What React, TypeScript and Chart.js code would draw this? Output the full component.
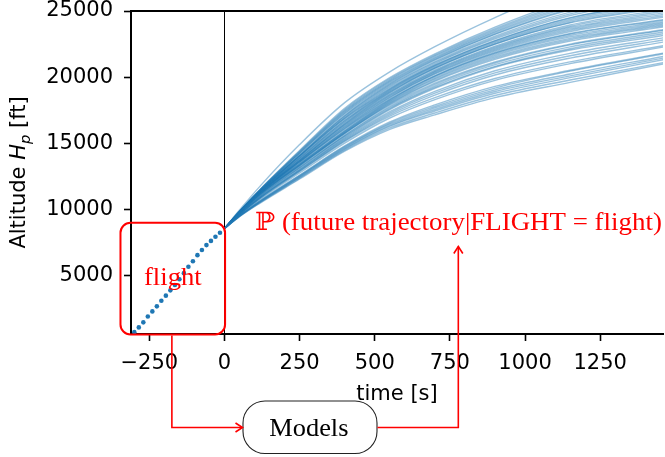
import React, { useEffect, useRef } from "react";
import { Chart, registerables } from "chart.js";

Chart.register(...registerables);

// ---------- data ----------
const TIMES = [0, 50, 120, 250, 400, 550, 700, 900, 1150, 1460];

const TRAJECTORIES: number[][] = [
  [8550, 9450, 10500, 12300, 14400, 16050, 17150, 18450, 19600, 21000],
  [8550, 9470, 10540, 12360, 14480, 16160, 17290, 18610, 19780, 21100],
  [8550, 9480, 10570, 12410, 14550, 16270, 17440, 18780, 19960, 21320],
  [8550, 9490, 10600, 12460, 14610, 16350, 17550, 18910, 20100, 21440],
  [8550, 9500, 10630, 12500, 14680, 16440, 17670, 19040, 20240, 21570],
  [8550, 9520, 10660, 12550, 14740, 16530, 17780, 19170, 20450, 21750],
  [8550, 9530, 10690, 12590, 14800, 16610, 17900, 19300, 20520, 21820],
  [8550, 9570, 10790, 12750, 15010, 16910, 18300, 19760, 21020, 22270],
  [8550, 9620, 10870, 12870, 15150, 17060, 18450, 19900, 21150, 22380],
  [8550, 9610, 10870, 12890, 15200, 17170, 18640, 20160, 21440, 22650],
  [8550, 9620, 10910, 12940, 15270, 17280, 18790, 20320, 21620, 22810],
  [8550, 9640, 10950, 13000, 15350, 17390, 18930, 20480, 21800, 22970],
  [8550, 9630, 10950, 13020, 15420, 17540, 19150, 20750, 22050, 23150],
  [8550, 9670, 11020, 13110, 15500, 17610, 19220, 20810, 22150, 23280],
  [8550, 9680, 11050, 13160, 15560, 17690, 19330, 20940, 22290, 23410],
  [8550, 9690, 11080, 13200, 15620, 17780, 19450, 21070, 22440, 23540],
  [8550, 9740, 11170, 13320, 15740, 17880, 19540, 21150, 22500, 23580],
  [8550, 9710, 11130, 13290, 15750, 17950, 19680, 21340, 22720, 23790],
  [8550, 9720, 11160, 13330, 15790, 18020, 19760, 21440, 22830, 23890],
  [8550, 9730, 11180, 13360, 15840, 18080, 19850, 21530, 22930, 23980],
  [8550, 9740, 11200, 13400, 15880, 18150, 19930, 21630, 23040, 24080],
  [8550, 9750, 11220, 13430, 15930, 18210, 20020, 21730, 23150, 24170],
  [8550, 9750, 11230, 13470, 15990, 18280, 20090, 21810, 23250, 24290],
  [8550, 9800, 11320, 13600, 16100, 18320, 20100, 21850, 23300, 24350],
  [8550, 9760, 11260, 13550, 16120, 18410, 20220, 21960, 23450, 24520],
  [8550, 9770, 11270, 13580, 16190, 18480, 20280, 22040, 23550, 24630],
  [8550, 9770, 11280, 13620, 16250, 18540, 20350, 22120, 23650, 24750],
  [8550, 9770, 11290, 13660, 16320, 18610, 20420, 22190, 23750, 24860],
  [8550, 9780, 11310, 13700, 16380, 18670, 20480, 22270, 23850, 24980],
  [8550, 9780, 11320, 13740, 16450, 18740, 20550, 22350, 23950, 25100],
  [8550, 9760, 11290, 13720, 16480, 18830, 20660, 22500, 24100, 25250],
  [8550, 9790, 11340, 13810, 16570, 18870, 20680, 22500, 24150, 25330],
  [8550, 9790, 11360, 13850, 16640, 18940, 20740, 22580, 24250, 25440],
  [8550, 9800, 11370, 13890, 16700, 19000, 20810, 22660, 24360, 25560],
  [8550, 9800, 11380, 13930, 16770, 19070, 20880, 22740, 24460, 25670],
  [8550, 9840, 11440, 14030, 16870, 19120, 20900, 22760, 24500, 25700],
  [8550, 9810, 11410, 14010, 16900, 19200, 21010, 22890, 24660, 25900],
  [8550, 9820, 11420, 14050, 16980, 19290, 21090, 22990, 24780, 26050],
  [8550, 9820, 11440, 14100, 17060, 19370, 21170, 23090, 24910, 26190],
  [8550, 9800, 11400, 14080, 17100, 19450, 21280, 23230, 25080, 26400],
  [8550, 9830, 11470, 14200, 17220, 19530, 21340, 23280, 25160, 26480],
  [8550, 9840, 11480, 14250, 17300, 19620, 21420, 23380, 25290, 26630],
  [8550, 9840, 11500, 14290, 17380, 19700, 21500, 23470, 25410, 26770],
  [8550, 9850, 11520, 14340, 17460, 19780, 21580, 23570, 25540, 26920],
  [8550, 9850, 11530, 14390, 17540, 19865, 21665, 23665, 25665, 27060],
  [8550, 9860, 11550, 14450, 17640, 19960, 21760, 23780, 25820, 27230],
  [8550, 9950, 11800, 14900, 18070, 20400, 22300, 24500, 26900, 29000],
];

const FLIGHT_T = [
  -300, -285, -270, -255, -240, -225, -210, -195, -180, -165,
  -150, -135, -120, -105, -90, -75, -60, -45, -30, -15,
];
const FLIGHT_ALT = [
  720, 1080, 1460, 1900, 2290, 2670, 3090, 3480, 3880, 4280,
  4720, 5180, 5660, 6080, 6540, 6930, 7300, 7620, 7930, 8230,
];

const X_TICKS = [-250, 0, 250, 500, 750, 1000, 1250];
const Y_TICKS = [5000, 10000, 15000, 20000, 25000];
const X_MIN = -311;
const X_MAX = 1459;
const Y_MIN = 580;
const Y_MAX = 25000;

const X_TITLE = "time [s]";
const Y_TITLE_PARTS = ["Altitude ", "H", "p", " [ft]"];
const FLIGHT_LABEL = "flight";
const PRED_LABEL = "\u2119 (future trajectory|FLIGHT = flight)";
const MODELS_LABEL = "Models";

// ---------- styles ----------
const BLUE = "#1f77b4";
const LINE_COLOR = "rgba(31,119,180,0.45)";
const RED = "#ff0000";
const SANS = '"DejaVu Sans"';
const SERIF = '"Liberation Serif", "DejaVu Serif", serif';

const fmt = (v: number) => String(v).replace("-", "\u2212");

function fitText(
  ctx: CanvasRenderingContext2D,
  text: string,
  left: number,
  right: number,
  baseline: number,
  font: string,
  color: string
) {
  ctx.save();
  ctx.font = font;
  ctx.fillStyle = color;
  ctx.textAlign = "left";
  ctx.textBaseline = "alphabetic";
  const m = ctx.measureText(text);
  const ink = m.actualBoundingBoxLeft + m.actualBoundingBoxRight;
  const sx = (right - left) / ink;
  ctx.translate(left, baseline);
  ctx.scale(sx, 1);
  ctx.fillText(text, m.actualBoundingBoxLeft, 0);
  ctx.restore();
}

function roundRect(ctx: CanvasRenderingContext2D, x0: number, y0: number, x1: number, y1: number, r: number) {
  ctx.beginPath();
  ctx.moveTo(x0 + r, y0);
  ctx.lineTo(x1 - r, y0);
  ctx.arcTo(x1, y0, x1, y0 + r, r);
  ctx.lineTo(x1, y1 - r);
  ctx.arcTo(x1, y1, x1 - r, y1, r);
  ctx.lineTo(x0 + r, y1);
  ctx.arcTo(x0, y1, x0, y1 - r, r);
  ctx.lineTo(x0, y0 + r);
  ctx.arcTo(x0, y0, x0 + r, y0, r);
  ctx.closePath();
}

const framePlugin = {
  id: "frame",
  beforeDatasetsDraw(chart: any) {
    const { ctx, chartArea: ca, scales } = chart;
    const x0 = Math.round(scales.x.getPixelForValue(0)) + 0.5;
    ctx.save();
    ctx.strokeStyle = "#000";
    ctx.lineWidth = 1;
    ctx.beginPath();
    ctx.moveTo(x0, ca.top);
    ctx.lineTo(x0, ca.bottom);
    ctx.stroke();
    ctx.restore();
  },
  afterDraw(chart: any) {
    const { ctx, chartArea: ca, scales } = chart;
    const xs = scales.x;
    const ys = scales.y;
    ctx.save();
    // top spine
    ctx.strokeStyle = "#000";
    ctx.lineWidth = 2;
    ctx.beginPath();
    ctx.moveTo(ca.left - 1, ca.top);
    ctx.lineTo(ca.right, ca.top);
    ctx.stroke();

    // axis titles
    ctx.fillStyle = "#000";
    ctx.font = `21px ${SANS}`;
    ctx.textAlign = "center";
    ctx.textBaseline = "alphabetic";
    ctx.fillText(X_TITLE, (ca.left + ca.right) / 2, 400);

    ctx.save();
    ctx.translate(25, (ca.top + ca.bottom) / 2);
    ctx.rotate(-Math.PI / 2);
    const fonts = [`21px ${SANS}`, `italic 21px ${SANS}`, `italic 14.7px ${SANS}`, `21px ${SANS}`];
    const shifts = [0, 0, 4.5, 0];
    const widths = Y_TITLE_PARTS.map((p, i) => {
      ctx.font = fonts[i];
      return ctx.measureText(p).width;
    });
    const total = widths.reduce((a, b) => a + b, 0);
    let cx = -total / 2;
    ctx.textAlign = "left";
    Y_TITLE_PARTS.forEach((p, i) => {
      ctx.font = fonts[i];
      ctx.fillText(p, cx, shifts[i]);
      cx += widths[i];
    });
    ctx.restore();

    // flight box
    const bx0 = xs.getPixelForValue(-346);
    const bx1 = xs.getPixelForValue(2);
    const by0 = ys.getPixelForValue(8990);
    const by1 = ca.bottom + 0.5;
    ctx.strokeStyle = RED;
    ctx.lineWidth = 2;
    roundRect(ctx, bx0, by0, bx1, by1, 10);
    ctx.stroke();
    fitText(ctx, FLIGHT_LABEL, 144, 201.7, 285, `25px ${SERIF}`, RED);

    // prediction label
    fitText(ctx, PRED_LABEL, 256, 661.5, 230, `25px ${SERIF}`, RED);

    // Models box
    ctx.strokeStyle = "#222";
    ctx.lineWidth = 1.1;
    roundRect(ctx, 243, 401, 377, 453.5, 22);
    ctx.stroke();
    fitText(ctx, MODELS_LABEL, 269.3, 347.7, 436, `25px ${SERIF}`, "#000");

    // arrows
    const ay = 427.5;
    const ax1 = xs.getPixelForValue(-175);
    const ax2 = xs.getPixelForValue(778);
    ctx.strokeStyle = RED;
    ctx.lineWidth = 1.6;
    ctx.lineJoin = "miter";
    ctx.beginPath();
    ctx.moveTo(ax1, by1 + 1);
    ctx.lineTo(ax1, ay);
    ctx.lineTo(242, ay);
    ctx.stroke();
    ctx.beginPath();
    ctx.moveTo(235.5, ay - 4.5);
    ctx.lineTo(242.5, ay);
    ctx.lineTo(235.5, ay + 4.5);
    ctx.stroke();

    ctx.beginPath();
    ctx.moveTo(377.5, ay);
    ctx.lineTo(ax2, ay);
    ctx.lineTo(ax2, 246.5);
    ctx.stroke();
    ctx.beginPath();
    ctx.moveTo(ax2 - 4.5, 253.5);
    ctx.lineTo(ax2, 246.5);
    ctx.lineTo(ax2 + 4.5, 253.5);
    ctx.stroke();

    ctx.restore();
  },
};

export default function App() {
  const ref = useRef<HTMLCanvasElement>(null);

  useEffect(() => {
    if (!ref.current) return;
    const datasets: any[] = TRAJECTORIES.map((alts) => ({
      type: "line",
      data: TIMES.map((t, i) => ({ x: t, y: alts[i] })),
      borderColor: LINE_COLOR,
      borderWidth: 1.4,
      pointRadius: 0,
      cubicInterpolationMode: "monotone",
      fill: false,
    }));
    datasets.push({
      type: "scatter",
      data: FLIGHT_T.map((t, i) => ({ x: t, y: FLIGHT_ALT[i] })),
      backgroundColor: BLUE,
      borderWidth: 0,
      pointRadius: 2.3,
      showLine: false,
    });

    const axisCommon = {
      grid: {
        display: true,
        drawOnChartArea: false,
        drawTicks: true,
        tickLength: 7,
        tickWidth: 1.6,
        tickColor: "#000",
      },
      border: { display: true, color: "#000", width: 2 },
    };

    const chart = new Chart(ref.current, {
      type: "line",
      data: { datasets },
      options: {
        animation: false,
        responsive: true,
        maintainAspectRatio: false,
        devicePixelRatio: 1,
        layout: { padding: { top: 11, left: 0, right: 0, bottom: 0 } },
        plugins: { legend: { display: false }, tooltip: { enabled: false } },
        scales: {
          x: {
            type: "linear",
            min: X_MIN,
            max: X_MAX,
            ...axisCommon,
            afterBuildTicks: (s: any) => {
              s.ticks = X_TICKS.map((v) => ({ value: v }));
            },
            afterFit: (s: any) => {
              s.height = 123;
              s.paddingLeft = 0;
              s.paddingRight = 0;
            },
            ticks: {
              color: "#000",
              font: { family: "DejaVu Sans", size: 21 },
              padding: 10,
              maxRotation: 0,
              autoSkip: false,
              callback: (v: any) => fmt(Number(v)),
            },
          },
          y: {
            type: "linear",
            min: Y_MIN,
            max: Y_MAX,
            ...axisCommon,
            afterBuildTicks: (s: any) => {
              s.ticks = Y_TICKS.map((v) => ({ value: v }));
            },
            afterFit: (s: any) => {
              s.width = 131;
              s.paddingTop = 0;
              s.paddingBottom = 0;
            },
            ticks: {
              color: "#000",
              font: { family: "DejaVu Sans", size: 21 },
              padding: 11,
              autoSkip: false,
              callback: (v: any) => fmt(Number(v)),
            },
          },
        },
      } as any,
      plugins: [framePlugin as any],
    });
    return () => chart.destroy();
  }, []);

  return (
    <div
      style={{
        position: "fixed",
        left: 0,
        top: 0,
        width: 665,
        height: 457,
        overflow: "hidden",
        background: "#fff",
      }}
    >
      <div style={{ position: "relative", width: 667, height: 457 }}>
        <canvas ref={ref} />
      </div>
    </div>
  );
}
